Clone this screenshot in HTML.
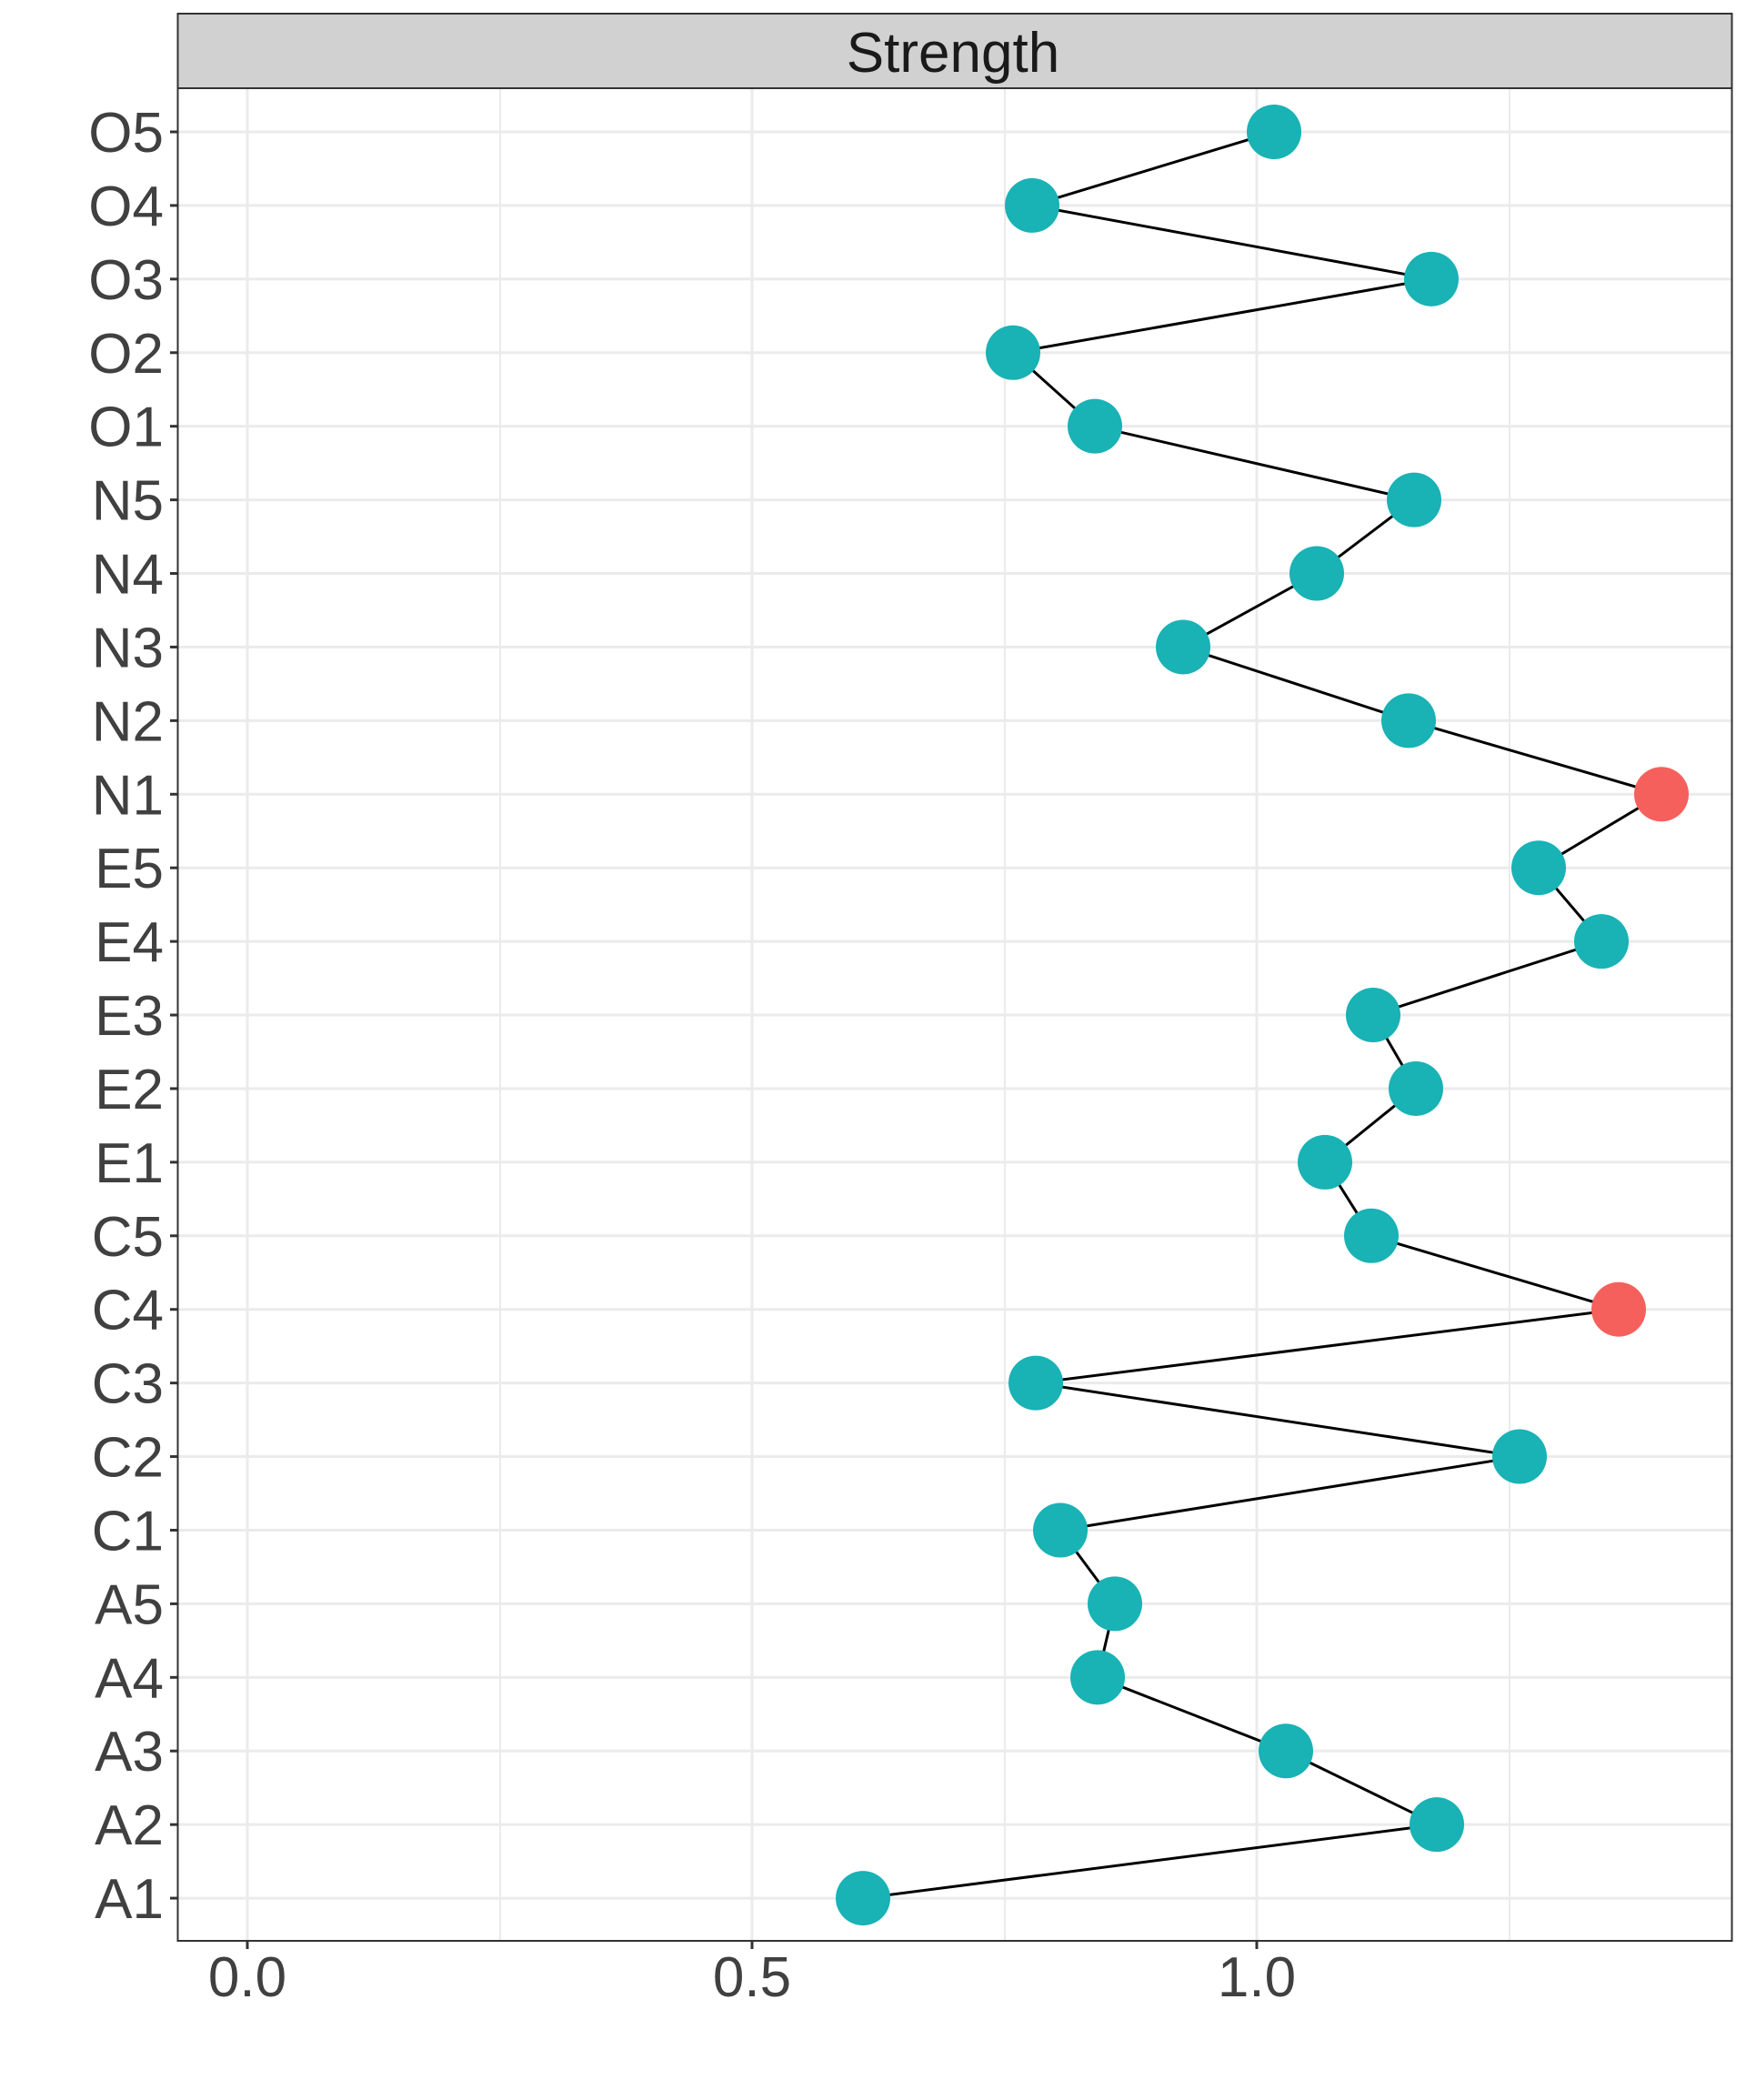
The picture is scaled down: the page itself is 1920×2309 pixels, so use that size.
<!DOCTYPE html>
<html><head><style>html,body{margin:0;padding:0;background:#fff}</style></head>
<body>
<svg width="1920" height="2304" xmlns="http://www.w3.org/2000/svg" font-family="Liberation Sans, Arial, sans-serif">
<rect width="1920" height="2304" fill="#fff"/>
<g stroke="#ebebeb" stroke-width="3">
<line x1="550" y1="97" x2="550" y2="2134" stroke-width="2"/>
<line x1="1105" y1="97" x2="1105" y2="2134" stroke-width="2"/>
<line x1="1660" y1="97" x2="1660" y2="2134" stroke-width="2"/>
<line x1="272" y1="97" x2="272" y2="2134"/>
<line x1="827" y1="97" x2="827" y2="2134"/>
<line x1="1382" y1="97" x2="1382" y2="2134"/>
</g>
<g id="hg" stroke="#ebebeb" stroke-width="3"></g>
<rect x="195.5" y="15" width="1709" height="82" fill="#d1d1d1" stroke="#333" stroke-width="2"/>
<text x="1048" y="79" font-size="62" fill="#1a1a1a" text-anchor="middle">Strength</text>
<rect x="195.5" y="97" width="1709" height="2037" fill="none" stroke="#333" stroke-width="2"/>
<g id="yl" font-size="62" fill="#404040" text-anchor="end"></g>
<g font-size="62" fill="#404040" text-anchor="middle" stroke="none">
<text x="272" y="2195">0.0</text><text x="827" y="2195">0.5</text><text x="1382" y="2195">1.0</text>
</g>
<g stroke="#333" stroke-width="3">
<line x1="272" y1="2134" x2="272" y2="2143"/><line x1="827" y1="2134" x2="827" y2="2143"/><line x1="1382" y1="2134" x2="1382" y2="2143"/>
</g>
<g id="data"></g>
</svg>
<script>
var labs=["O5","O4","O3","O2","O1","N5","N4","N3","N2","N1","E5","E4","E3","E2","E1","C5","C4","C3","C2","C1","A5","A4","A3","A2","A1"];
var xs=[1401,1135,1574,1114,1204,1555,1448,1301,1549,1827,1692,1761,1510,1557,1457,1508,1780,1139,1671,1166,1226,1207,1414,1580,949];
var ns="http://www.w3.org/2000/svg";
function el(t,a,p){var e=document.createElementNS(ns,t);for(var k in a)e.setAttribute(k,a[k]);p.appendChild(e);return e;}
var hg=document.getElementById("hg"),yl=document.getElementById("yl"),d=document.getElementById("data");
var pts=[];
for(var i=0;i<25;i++){var y=145+i*80.92;
el("line",{x1:196,x2:1904,y1:y,y2:y},hg);
el("line",{x1:187,x2:196,y1:y,y2:y,stroke:"#333","stroke-width":3},yl);
var t=el("text",{x:180,y:y+22},yl);t.textContent=labs[i];
pts.push(xs[i]+","+y);}
el("polyline",{points:pts.join(" "),fill:"none",stroke:"#000","stroke-width":3},d);
for(var i=0;i<25;i++){var y=145+i*80.92;var red=(labs[i]=="N1"||labs[i]=="C4");
el("circle",{cx:xs[i],cy:y,r:30,fill:red?"#f5605c":"#19b2b5"},d);}
</script>
</body></html>
